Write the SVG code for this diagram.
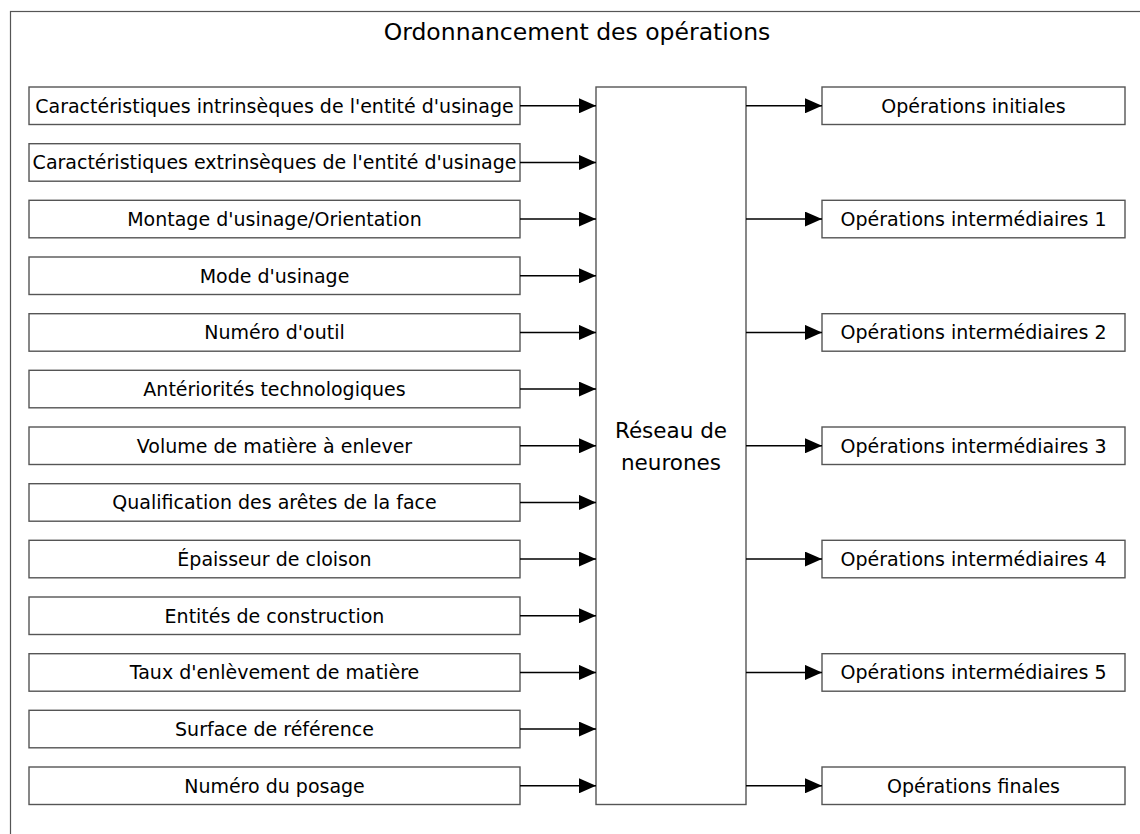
<svg xmlns="http://www.w3.org/2000/svg" width="1140" height="834" viewBox="0 0 1140 834">
  <style>
    .frame { fill: #ffffff; stroke: #555555; stroke-width: 1.2; }
    .box { fill: #ffffff; stroke: #555555; stroke-width: 1.4; }
    .lbl { font-family: "DejaVu Sans", "Liberation Sans", sans-serif; font-size: 19px; fill: #000000; text-anchor: middle; }
    .title { font-family: "DejaVu Sans", "Liberation Sans", sans-serif; font-size: 23.5px; fill: #000000; text-anchor: middle; }
    .center { font-family: "DejaVu Sans", "Liberation Sans", sans-serif; font-size: 21.5px; fill: #000000; text-anchor: middle; }
    .conn { stroke: #000000; stroke-width: 1.5; fill: none; marker-end: url(#arrow); }
  </style>
  <defs>
    <marker id="arrow" markerUnits="userSpaceOnUse" markerWidth="17" markerHeight="15" refX="17" refY="7.5" orient="auto">
      <path d="M0,0 L17,7.5 L0,15 Z" fill="#000000"/>
    </marker>
  </defs>
  <rect width="1140" height="834" fill="#ffffff"/>
  <rect class="frame" x="10.5" y="11.5" width="1150" height="850"/>
  <text class="title" x="577" y="40">Ordonnancement des opérations</text>

  <g id="inputs">
    <g id="in1"><rect class="box" x="29" y="87" width="491" height="37.5"/><text class="lbl" x="274.5" y="112.5">Caractéristiques intrinsèques de l'entité d'usinage</text></g>
    <g id="in2"><rect class="box" x="29" y="143.7" width="491" height="37.5"/><text class="lbl" x="274.5" y="169.2">Caractéristiques extrinsèques de l'entité d'usinage</text></g>
    <g id="in3"><rect class="box" x="29" y="200.3" width="491" height="37.5"/><text class="lbl" x="274.5" y="225.8">Montage d'usinage/Orientation</text></g>
    <g id="in4"><rect class="box" x="29" y="257" width="491" height="37.5"/><text class="lbl" x="274.5" y="282.5">Mode d'usinage</text></g>
    <g id="in5"><rect class="box" x="29" y="313.7" width="491" height="37.5"/><text class="lbl" x="274.5" y="339.2">Numéro d'outil</text></g>
    <g id="in6"><rect class="box" x="29" y="370.3" width="491" height="37.5"/><text class="lbl" x="274.5" y="395.8">Antériorités technologiques</text></g>
    <g id="in7"><rect class="box" x="29" y="427" width="491" height="37.5"/><text class="lbl" x="274.5" y="452.5">Volume de matière à enlever</text></g>
    <g id="in8"><rect class="box" x="29" y="483.7" width="491" height="37.5"/><text class="lbl" x="274.5" y="509.2">Qualification des arêtes de la face</text></g>
    <g id="in9"><rect class="box" x="29" y="540.3" width="491" height="37.5"/><text class="lbl" x="274.5" y="565.8">Épaisseur de cloison</text></g>
    <g id="in10"><rect class="box" x="29" y="597" width="491" height="37.5"/><text class="lbl" x="274.5" y="622.5">Entités de construction</text></g>
    <g id="in11"><rect class="box" x="29" y="653.7" width="491" height="37.5"/><text class="lbl" x="274.5" y="679.2">Taux d'enlèvement de matière</text></g>
    <g id="in12"><rect class="box" x="29" y="710.3" width="491" height="37.5"/><text class="lbl" x="274.5" y="735.8">Surface de référence</text></g>
    <g id="in13"><rect class="box" x="29" y="767" width="491" height="37.5"/><text class="lbl" x="274.5" y="792.5">Numéro du posage</text></g>
  </g>

  <g id="reseau">
    <rect class="box" x="596" y="87" width="150" height="717.5"/>
    <text class="center" x="671" y="438">Réseau de</text>
    <text class="center" x="671" y="470">neurones</text>
  </g>

  <g id="outputs">
    <g id="out1"><rect class="box" x="822" y="87" width="303" height="37.5"/><text class="lbl" x="973.5" y="112.5">Opérations initiales</text></g>
    <g id="out2"><rect class="box" x="822" y="200.3" width="303" height="37.5"/><text class="lbl" x="973.5" y="225.8">Opérations intermédiaires 1</text></g>
    <g id="out3"><rect class="box" x="822" y="313.7" width="303" height="37.5"/><text class="lbl" x="973.5" y="339.2">Opérations intermédiaires 2</text></g>
    <g id="out4"><rect class="box" x="822" y="427" width="303" height="37.5"/><text class="lbl" x="973.5" y="452.5">Opérations intermédiaires 3</text></g>
    <g id="out5"><rect class="box" x="822" y="540.3" width="303" height="37.5"/><text class="lbl" x="973.5" y="565.8">Opérations intermédiaires 4</text></g>
    <g id="out6"><rect class="box" x="822" y="653.7" width="303" height="37.5"/><text class="lbl" x="973.5" y="679.2">Opérations intermédiaires 5</text></g>
    <g id="out7"><rect class="box" x="822" y="767" width="303" height="37.5"/><text class="lbl" x="973.5" y="792.5">Opérations finales</text></g>
  </g>

  <g id="connectors">
    <line class="conn" x1="520" y1="105.8" x2="596" y2="105.8"/>
    <line class="conn" x1="520" y1="162.4" x2="596" y2="162.4"/>
    <line class="conn" x1="520" y1="219.1" x2="596" y2="219.1"/>
    <line class="conn" x1="520" y1="275.8" x2="596" y2="275.8"/>
    <line class="conn" x1="520" y1="332.4" x2="596" y2="332.4"/>
    <line class="conn" x1="520" y1="389.1" x2="596" y2="389.1"/>
    <line class="conn" x1="520" y1="445.8" x2="596" y2="445.8"/>
    <line class="conn" x1="520" y1="502.4" x2="596" y2="502.4"/>
    <line class="conn" x1="520" y1="559.1" x2="596" y2="559.1"/>
    <line class="conn" x1="520" y1="615.8" x2="596" y2="615.8"/>
    <line class="conn" x1="520" y1="672.4" x2="596" y2="672.4"/>
    <line class="conn" x1="520" y1="729.1" x2="596" y2="729.1"/>
    <line class="conn" x1="520" y1="785.8" x2="596" y2="785.8"/>
    <line class="conn" x1="746" y1="105.8" x2="822" y2="105.8"/>
    <line class="conn" x1="746" y1="219.1" x2="822" y2="219.1"/>
    <line class="conn" x1="746" y1="332.4" x2="822" y2="332.4"/>
    <line class="conn" x1="746" y1="445.8" x2="822" y2="445.8"/>
    <line class="conn" x1="746" y1="559.1" x2="822" y2="559.1"/>
    <line class="conn" x1="746" y1="672.4" x2="822" y2="672.4"/>
    <line class="conn" x1="746" y1="785.8" x2="822" y2="785.8"/>
  </g>
</svg>
